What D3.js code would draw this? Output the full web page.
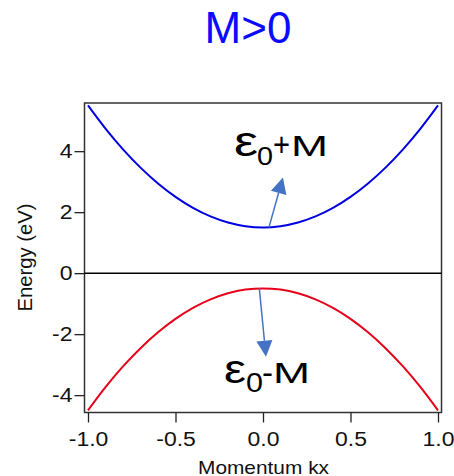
<!DOCTYPE html>
<html>
<head>
<meta charset="utf-8">
<script src="https://cdn.jsdelivr.net/npm/d3@7"></script>
<style>
  html, body { margin: 0; padding: 0; background: #fff; }
  svg { display: block; }
  text { font-family: "Liberation Sans", Arial, sans-serif; }
</style>
</head>
<body>
<svg id="chart" width="454" height="476"></svg>
<script>
// Momentum samples along kx
const kx = [-1.0, -0.9, -0.8, -0.7, -0.6, -0.5, -0.4, -0.3, -0.2, -0.1, 0.0,
             0.1, 0.2, 0.3, 0.4, 0.5, 0.6, 0.7, 0.8, 0.9, 1.0];
// Upper band (ε0+M), energy in eV
const upperBand = [5.50, 4.74, 4.06, 3.46, 2.94, 2.50, 2.14, 1.86, 1.66, 1.54, 1.50,
                   1.54, 1.66, 1.86, 2.14, 2.50, 2.94, 3.46, 4.06, 4.74, 5.50];
// Lower band (ε0-M), energy in eV
const lowerBand = [-4.50, -3.74, -3.06, -2.46, -1.94, -1.50, -1.14, -0.86, -0.66, -0.54, -0.50,
                   -0.54, -0.66, -0.86, -1.14, -1.50, -1.94, -2.46, -3.06, -3.74, -4.50];

const xTicks = [-1.0, -0.5, 0.0, 0.5, 1.0];
const yTicks = [-4, -2, 0, 2, 4];

// Arrows: [kx start, E start, kx tip, E tip]
const arrowUp = [0.034, 1.5, 0.114, 3.14];
const arrowDown = [-0.021, -0.5, 0.017, -2.74];

const svg = d3.select("#chart");
const plot = { left: 84.5, right: 441.5, top: 103, bottom: 412.5 };

const x = d3.scaleLinear().domain([-1.02, 1.02]).range([plot.left, plot.right]);
const y = d3.scaleLinear().domain([-4.57, 5.58]).range([plot.bottom, plot.top]);

const tickFont = 20.5, tickStretch = 1.12;

// Title
svg.append("text")
  .attr("x", 248).attr("y", 43)
  .attr("text-anchor", "middle")
  .attr("font-size", 44)
  .attr("fill", "#0a0aff")
  .text("M>0");

// Frame
svg.append("rect")
  .attr("x", plot.left).attr("y", plot.top)
  .attr("width", plot.right - plot.left).attr("height", plot.bottom - plot.top)
  .attr("fill", "none").attr("stroke", "#333").attr("stroke-width", 1.5);

// Zero line
svg.append("line")
  .attr("x1", plot.left).attr("x2", plot.right)
  .attr("y1", y(0)).attr("y2", y(0))
  .attr("stroke", "#000").attr("stroke-width", 1.5);

// Axes
const xAxis = d3.axisBottom(x).tickValues(xTicks).tickSize(10).tickPadding(9);
const gx = svg.append("g").attr("transform", `translate(0,${plot.bottom})`).call(xAxis);
gx.select(".domain").remove();

const yAxis = d3.axisLeft(y).tickValues(yTicks).tickSize(10).tickPadding(2);
const gy = svg.append("g").attr("transform", `translate(${plot.left},0)`).call(yAxis);
gy.select(".domain").remove();

[gx, gy].forEach(g => {
  g.selectAll(".tick line").attr("stroke", "#222").attr("stroke-width", 1.3);
  g.selectAll(".tick text").attr("font-size", tickFont).attr("fill", "#111")
    .attr("font-family", "'Liberation Sans', Arial, sans-serif");
});
gy.selectAll(".tick text").text(d => (d < 0 ? "-" : "") + Math.abs(d))
  .attr("x", -12 / tickStretch)
  .attr("transform", `scale(${tickStretch},1)`);
gx.selectAll(".tick text").text(d => (d < 0 ? "-" : "") + Math.abs(d).toFixed(1))
  .attr("transform", `scale(${tickStretch},1)`);

// Axis titles
svg.append("text")
  .attr("x", 263.5).attr("y", 474)
  .attr("text-anchor", "middle").attr("font-size", 19).attr("fill", "#111")
  .attr("textLength", 131).attr("lengthAdjust", "spacingAndGlyphs")
  .text("Momentum kx");

svg.append("text")
  .attr("transform", `translate(31.5,257.5) rotate(-90)`)
  .attr("text-anchor", "middle").attr("font-size", 19.5).attr("fill", "#111")
  .attr("textLength", 108).attr("lengthAdjust", "spacingAndGlyphs")
  .text("Energy (eV)");

// Bands
const line = d3.line().curve(d3.curveCatmullRom)
  .x((d, i) => x(kx[i])).y(d => y(d));

svg.append("path").datum(upperBand)
  .attr("d", line).attr("fill", "none")
  .attr("stroke", "#0000e0").attr("stroke-width", 2);

svg.append("path").datum(lowerBand)
  .attr("d", line).attr("fill", "none")
  .attr("stroke", "#e6001a").attr("stroke-width", 2);

// Arrows
const arrowColor = "#4472c4";
function drawArrow(a) {
  const x0 = x(a[0]), y0 = y(a[1]), x1 = x(a[2]), y1 = y(a[3]);
  const ang = Math.atan2(y1 - y0, x1 - x0);
  const headLen = 16, headHalf = 8;
  const bx = x1 - headLen * Math.cos(ang), by = y1 - headLen * Math.sin(ang);
  svg.append("line")
    .attr("x1", x0).attr("y1", y0).attr("x2", bx).attr("y2", by)
    .attr("stroke", arrowColor).attr("stroke-width", 1.5);
  const px = -Math.sin(ang) * headHalf, py = Math.cos(ang) * headHalf;
  svg.append("path")
    .attr("d", `M${x1},${y1}L${bx + px},${by + py}L${bx - px},${by - py}Z`)
    .attr("fill", arrowColor);
}
drawArrow(arrowUp);
drawArrow(arrowDown);

// Band labels: each piece placed from the left edge and baseline
function bandLabel(x0, base, parts) {
  parts.forEach(p => {
    svg.append("text")
      .attr("x", x0 + p.dx).attr("y", base + (p.dy || 0))
      .attr("font-size", p.size).attr("fill", "#000")
      .attr("textLength", p.w).attr("lengthAdjust", "spacingAndGlyphs")
      .text(p.t);
  });
}
bandLabel(234, 156, [
  { t: "ε", dx: 0, size: 42, w: 24 },
  { t: "0", dx: 23, size: 26, w: 16, dy: 9 },
  { t: "+", dx: 39, size: 33, w: 17 },
  { t: "M", dx: 57, size: 29, w: 37 }
]);
bandLabel(224, 383, [
  { t: "ε", dx: 0, size: 40, w: 22 },
  { t: "0", dx: 22, size: 27, w: 17, dy: 9 },
  { t: "-", dx: 38, size: 32, w: 11 },
  { t: "M", dx: 49, size: 29, w: 37 }
]);
</script>
</body>
</html>
